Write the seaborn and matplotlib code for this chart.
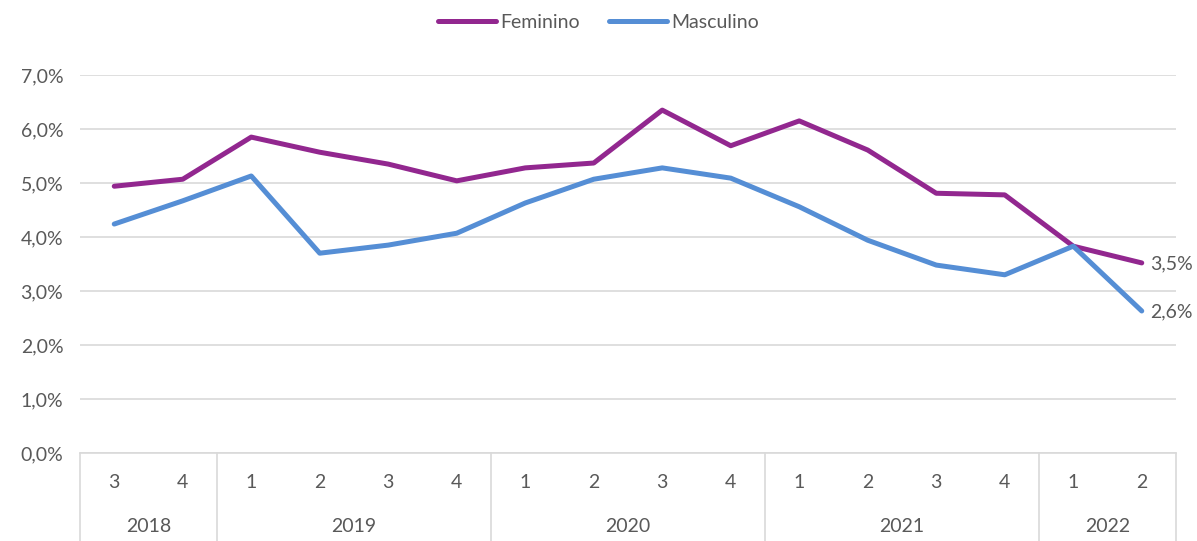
import pandas as pd
import numpy as np
import matplotlib.pyplot as plt
import matplotlib.transforms as mtransforms
import seaborn as sns

# Datos (tasa en %, por trimestre)
anios = ['2018', '2018', '2019', '2019', '2019', '2019', '2020', '2020', '2020', '2020',
         '2021', '2021', '2021', '2021', '2022', '2022']
trimestres = ['3', '4', '1', '2', '3', '4', '1', '2', '3', '4', '1', '2', '3', '4', '1', '2']

femenino = [4.94, 5.07, 5.85, 5.57, 5.35, 5.04, 5.28, 5.37, 6.35, 5.69,
            6.15, 5.61, 4.81, 4.78, 3.83, 3.52]
masculino = [4.24, 4.67, 5.13, 3.70, 3.85, 4.07, 4.63, 5.07, 5.28, 5.09,
             4.56, 3.94, 3.48, 3.30, 3.83, 2.63]

etiquetas_finales = ['3,5%', '2,6%']

colores = {'Feminino': '#92278F', 'Masculino': '#558ED5'}
gris_texto = '#595959'
gris_linea = '#D9D9D9'

n = len(trimestres)
pos = np.arange(n)

df = pd.DataFrame({
    'pos': np.concatenate([pos, pos]),
    'valor': np.array(femenino + masculino) / 100,
    'sexo': ['Feminino'] * n + ['Masculino'] * n,
})

sns.set_style('white')
plt.rcParams['font.family'] = ['Lato', 'DejaVu Sans']

fig = plt.figure(figsize=(11.97, 5.41), dpi=100)
ax = fig.add_axes([80 / 1197, 1 - 453 / 541, (1176 - 80) / 1197, (453 - 75) / 541])

sns.lineplot(data=df, x='pos', y='valor', hue='sexo', palette=colores,
             linewidth=3.6, ax=ax, legend=False)
for ln in ax.lines:
    ln.set_solid_capstyle('round')
    ln.set_solid_joinstyle('round')

ax.set_xlim(-0.5, n - 0.5)
ax.set_ylim(0, 0.07)
ax.set_yticks(np.arange(0, 0.071, 0.01))
ax.set_yticklabels([f'{v:.1f}%'.replace('.', ',') for v in np.arange(0, 7.1, 1)],
                   fontsize=14, color=gris_texto)
ax.yaxis.grid(True, color=gris_linea, linewidth=1.2)
ax.tick_params(axis='y', length=0, pad=12)
ax.set_xlabel('')
ax.set_ylabel('')
for s in ['top', 'right', 'left']:
    ax.spines[s].set_visible(False)
ax.spines['bottom'].set_color(gris_linea)
ax.spines['bottom'].set_linewidth(1.2)

# Eje de categorías de dos niveles: trimestre y año
ax.set_xticks(pos)
ax.set_xticklabels([])
ax.tick_params(axis='x', length=0)
trans = mtransforms.blended_transform_factory(ax.transData, ax.transAxes)
px = 1 / (453 - 75)  # un píxel en coordenadas del eje
for p, t in zip(pos, trimestres):
    ax.text(p, -30 * px, t, transform=trans, ha='center', va='center',
            fontsize=14, color=gris_texto)

# Separadores y etiquetas de año
limites = [-0.5]
for i in range(1, n):
    if anios[i] != anios[i - 1]:
        limites.append(i - 0.5)
limites.append(n - 0.5)
for x in limites:
    ax.plot([x, x], [0, -90 * px], transform=trans, color=gris_linea,
            linewidth=1.2, clip_on=False)
for a, b in zip(limites[:-1], limites[1:]):
    ax.text((a + b) / 2, -74 * px, anios[int(a + 0.5)], transform=trans,
            ha='center', va='center', fontsize=14, color=gris_texto)

# Etiquetas del último valor
for serie, etq in zip([femenino, masculino], etiquetas_finales):
    ax.annotate(etq, (pos[-1], serie[-1] / 100), xytext=(6, -1),
                textcoords='offset points', ha='left', va='center',
                fontsize=14, color=gris_texto, annotation_clip=False)

# Leyenda arriba al centro
handles = [plt.Line2D([0], [0], color=colores[k], linewidth=3.6,
                      solid_capstyle='round') for k in colores]
fig.legend(handles, list(colores.keys()), loc='center', bbox_to_anchor=(0.5, 1 - 22 / 541),
           ncol=2, frameon=False, fontsize=14, handlelength=3.0, handletextpad=0.2,
           columnspacing=1.5, labelcolor=gris_texto)

fig.savefig('out.png', dpi=100)
plt.close(fig)
